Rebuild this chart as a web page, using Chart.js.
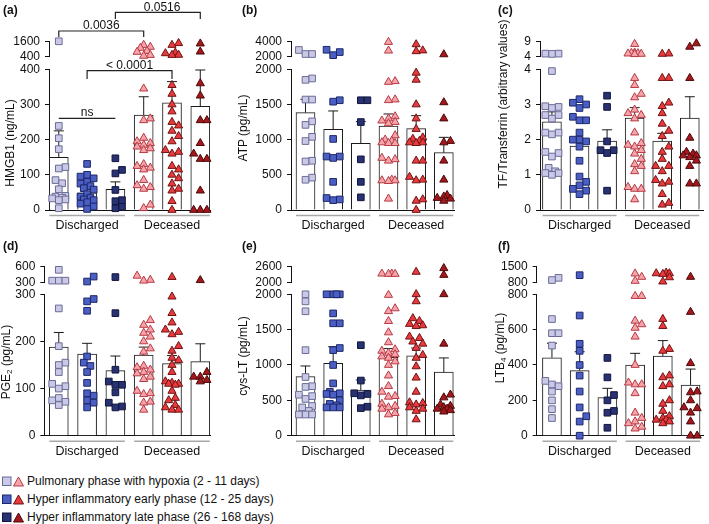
<!DOCTYPE html>
<html>
<head>
<meta charset="utf-8">
<script src="https://cdn.jsdelivr.net/npm/chart.js@4.4.1/dist/chart.umd.min.js"></script>
<style>
  body { margin: 0; width: 709px; height: 524px; position: relative; background: #fff; overflow: hidden;
         font-family: "Liberation Sans", Arial, sans-serif; color: #111; }
  canvas { position: absolute; }
  .lbl { position: absolute; font-weight: bold; font-size: 12px; line-height: 14px; }
  .ytitle { position: absolute; font-size: 12px; line-height: 14px; white-space: nowrap;
            transform: translate(-50%, -50%) rotate(-90deg); }
  .ytitle sub { font-size: 8px; vertical-align: -2px; }
  .legend { position: absolute; left: 1px; top: 472px; font-size: 12px; }
  .legend div { height: 18px; display: flex; align-items: center; }
  .legend svg { flex: none; }
</style>
</head>
<body>

<div class="lbl" style="left:3px;top:3px">(a)</div>
<div class="lbl" style="left:242px;top:3px">(b)</div>
<div class="lbl" style="left:498px;top:3px">(c)</div>
<div class="lbl" style="left:3px;top:239px">(d)</div>
<div class="lbl" style="left:242px;top:239px">(e)</div>
<div class="lbl" style="left:498px;top:239px">(f)</div>

<div class="ytitle" style="left:10px;top:143px">HMGB1 (ng/mL)</div>
<div class="ytitle" style="left:243px;top:128px">ATP (pg/mL)</div>
<div class="ytitle" style="left:503px;top:104px">TF/Transferrin (arbitrary values)</div>
<div class="ytitle" style="left:8px;top:362px">PGE<sub>2</sub> (pg/mL)</div>
<div class="ytitle" style="left:243px;top:356px">cys-LT (pg/mL)</div>
<div class="ytitle" style="left:502px;top:348px">LTB<sub>4</sub> (pg/mL)</div>

<div class="legend" id="legend"></div>

<script>
// Categories
const groupLabels = ['Discharged', 'Deceased'];
const phaseLabels = [
  'Pulmonary phase with hypoxia (2 - 11 days)',
  'Hyper inflammatory early phase (12 - 25 days)',
  'Hyper inflammatory late phase (26 - 168 days)'
];

// (a) HMGB1
const hmgb1Points = [
  [1600, 239, 204, 173, 122, 118, 85, 76, 59, 40, 38, 35, 33, 30, 28, 5],
  [131, 100, 95, 90, 80, 75, 68, 62, 58, 45, 38, 35, 30, 28, 22, 18, 10, 3],
  [147, 114, 104, 57, 28, 25, 9, 5],
  [1310, 1160, 1080, 840, 770, 530, 460, 345, 260, 255, 205, 195, 190, 185, 180, 175, 170, 130, 125, 120, 115, 85, 70, 65, 60, 15, 5],
  [1450, 1310, 720, 660, 540, 530, 355, 330, 300, 280, 250, 240, 225, 210, 195, 170, 165, 160, 125, 115, 100, 90, 75, 60, 55, 25, 0],
  [1420, 790, 360, 325, 255, 255, 190, 160, 145, 145, 55, 0, 0, 0]
];
const hmgb1Mean = [150, 49, 59, 270, 305, 295];
const hmgb1Sem = [75, 10, 21, 52, 60, 103];
const hmgb1Ticks = [0, 100, 200, 300, 400];
const hmgb1Upper = [400, 1600];

// (b) ATP
const atpPoints = [
  [2870, 2350, 2350, 1870, 1850, 1570, 1570, 1260, 1210, 1040, 980, 700, 690, 460, 430],
  [2900, 2600, 2200, 1560, 1540, 1010, 760, 760, 740, 400, 170, 150, 140],
  [1560, 1560, 1250, 720, 400, 180],
  [3900, 2780, 1830, 1820, 1570, 1560, 1330, 1300, 1270, 1250, 1230, 1060, 1000, 980, 960, 950, 950, 740, 720, 700, 430, 420, 420, 410, 160],
  [3600, 2800, 2700, 1950, 1850, 1500, 1300, 1150, 1030, 1010, 980, 960, 960, 950, 700, 700, 470, 430, 420, 150, 130, 0],
  [2300, 1530, 1300, 980, 960, 700, 430, 210, 190, 170, 160, 130]
];
const atpMean = [1384, 1147, 948, 1194, 1156, 815];
const atpSem = [189, 261, 308, 171, 185, 218];
const atpTicks = [0, 500, 1000, 1500, 2000];
const atpUpper = [2000, 4000];

// (c) TF/Transferrin
const tfPoints = [
  [5.0, 4.9, 5.0, 3.95, 2.95, 2.93, 2.9, 2.7, 2.7, 2.6, 2.2, 2.2, 2.15, 1.65, 1.62, 1.52, 1.2, 1.1, 1.05, 1.05, 1.0],
  [3.15, 3.05, 3.0, 2.9, 2.65, 2.55, 2.55, 2.2, 2.0, 2.0, 1.95, 1.8, 1.4, 0.95, 0.8, 0.7, 0.6, 0.55, 0.45],
  [3.25, 2.93, 1.95, 1.7, 1.7, 1.62, 0.55],
  [8.1, 5.3, 5.2, 5.1, 5.0, 4.9, 4.8, 3.75, 3.55, 3.3, 3.2, 2.85, 2.75, 2.7, 2.6, 2.2, 1.9, 1.85, 1.8, 1.7, 1.6, 1.45, 1.3, 1.25, 1.1, 0.65, 0.6, 0.6, 0.3],
  [5.0, 4.9, 3.75, 3.75, 3.05, 2.95, 2.75, 2.45, 2.25, 2.1, 1.8, 1.65, 1.45, 1.25, 1.25, 1.1, 0.85, 0.8, 0.75, 0.45, 0.2, 0.15],
  [8.3, 7.2, 3.75, 2.05, 1.65, 1.6, 1.55, 1.55, 1.5, 1.4, 1.25, 0.75, 0.75]
];
const tfMean = [2.51, 1.82, 1.96, 2.61, 1.96, 2.61];
const tfSem = [0.28, 0.2, 0.32, 0.3, 0.22, 0.61];
const tfTicks = [0, 1, 2, 3, 4];
const tfUpper = [4, 9];

// (d) PGE2
const pgePoints = [
  [540, 332, 332, 332, 270, 190, 155, 150, 135, 110, 105, 100, 80, 75, 72, 65],
  [410, 315, 290, 285, 265, 168, 155, 148, 135, 112, 90, 85, 75, 70, 60],
  [400, 260, 140, 115, 108, 108, 92, 70, 62, 60],
  [425, 345, 330, 245, 235, 225, 218, 210, 200, 185, 178, 148, 145, 140, 135, 132, 125, 120, 95, 90, 88, 72, 70, 55],
  [400, 295, 260, 240, 225, 220, 215, 190, 180, 165, 160, 150, 135, 115, 112, 110, 110, 108, 95, 80, 75, 65, 60, 55, 55],
  [340, 135, 125, 125, 118, 115]
];
const pgeMean = [188, 173, 138, 171, 153, 157];
const pgeSem = [31, 23, 31, 17, 17, 38];
const pgeTicks = [0, 100, 200, 300];
const pgeUpper = [300, 600];

// (e) cys-LT
const cysPoints = [
  [2000, 1900, 1760, 1210, 830, 700, 690, 580, 560, 520, 420, 400, 350, 300, 300, 300],
  [2000, 2000, 2000, 2000, 1730, 1590, 1590, 1240, 1210, 1000, 740, 620, 600, 590, 580, 500, 450, 430, 400, 400, 400],
  [1280, 780, 600, 590, 570, 410, 390],
  [2330, 2330, 2320, 2320, 1990, 1800, 1760, 1620, 1460, 1320, 1220, 1200, 1170, 1150, 1120, 1100, 1050, 1000, 850, 700, 620, 560, 550, 450, 420, 400, 380, 320, 300],
  [2400, 2000, 1900, 1660, 1620, 1580, 1560, 1550, 1400, 1380, 1330, 1300, 1240, 1140, 1100, 980, 820, 620, 470, 460, 440, 400, 380, 350, 230],
  [2540, 2280, 2000, 1300, 580, 540, 440, 420, 400, 380, 380, 360, 340]
];
const cysMean = [835, 1024, 646, 1110, 1130, 900];
const cysSem = [151, 235, 142, 122, 110, 200];
const cysTicks = [0, 500, 1000, 1500, 2000];
const cysUpper = [2000, 2600];

// (f) LTB4
const ltbPoints = [
  [1000, 900, 660, 580, 580, 510, 310, 290, 280, 250, 200, 150, 100],
  [1120, 680, 520, 480, 400, 340, 250, 160, 110, 80, 0],
  [440, 330, 230, 200, 140, 130, 45],
  [1190, 1040, 860, 790, 790, 650, 630, 610, 560, 400, 300, 290, 290, 240, 130, 100, 80, 70, 50, 40],
  [1230, 1200, 1200, 1170, 1020, 830, 660, 620, 490, 480, 340, 330, 290, 280, 200, 180, 140, 110, 100, 90, 90, 80, 70],
  [1040, 700, 410, 250, 245, 200, 160, 155, 130, 80, 0, 0]
];
const ltbMean = [441, 368, 215, 400, 451, 287];
const ltbSem = [82, 107, 53, 66, 87, 90];
const ltbTicks = [0, 200, 400, 600, 800];
const ltbUpper = [800, 1500];

const FONT = '"Liberation Sans", Arial, sans-serif';
Chart.defaults.font.family = FONT;
Chart.defaults.font.size = 12;
Chart.defaults.color = '#111';

const squareColors = [['#c9c9e7', '#6b6b96'], ['#4b5ec3', '#1d2868'], ['#283172', '#11163c']];
const triColors = [['#f6a4a9', '#b63a44'], ['#e8393d', '#6e1313'], ['#a4171c', '#4b0909']];

// legend
const legend = document.getElementById('legend');
phaseLabels.forEach((t, i) => {
  const row = document.createElement('div');
  row.innerHTML = '<svg width="26" height="11">' +
    '<rect x="1.5" y="1" width="8.5" height="8.5" fill="' + squareColors[i][0] + '" stroke="' + squareColors[i][1] + '" stroke-width="1"/>' +
    '<polygon points="12.5,10 22.5,10 17.5,1" fill="' + triColors[i][0] + '" stroke="' + triColors[i][1] + '" stroke-width="1"/>' +
    '</svg><span>' + t + '</span>';
  legend.appendChild(row);
});

// error bars (mean + SEM, upward only)
const errorBars = {
  id: 'errorBars',
  afterDatasetDraw(chart, args) {
    if (args.index !== 0) return;
    const ds = chart.data.datasets[0];
    const ys = chart.scales.y, xs = chart.scales.x, ctx = chart.ctx;
    ctx.save();
    ctx.strokeStyle = '#1a1a1a';
    ctx.lineWidth = 1;
    ds.data.forEach((d, i) => {
      const x = xs.getPixelForValue(d.x);
      const y0 = ys.getPixelForValue(d.y), y1 = ys.getPixelForValue(d.y + ds.sem[i]);
      ctx.beginPath();
      ctx.moveTo(x, y0); ctx.lineTo(x, y1);
      ctx.moveTo(x - 5, y1); ctx.lineTo(x + 5, y1);
      ctx.stroke();
    });
    ctx.restore();
  }
};

// grey group underlines
const groupLines = {
  id: 'groupLines',
  afterDraw(chart) {
    const xs = chart.scales.x, ctx = chart.ctx, y = chart.chartArea.bottom + 5.5;
    ctx.save();
    ctx.strokeStyle = '#a8a8a8';
    ctx.lineWidth = 1.5;
    [[1, 3], [4, 6]].forEach(([a, b]) => {
      ctx.beginPath();
      ctx.moveTo(xs.getPixelForValue(a) - 9.5, y);
      ctx.lineTo(xs.getPixelForValue(b) + 9.5, y);
      ctx.stroke();
    });
    ctx.restore();
  }
};

// significance brackets
const brackets = {
  id: 'brackets',
  afterDraw(chart, args, opts) {
    const items = opts.items || [];
    const xs = chart.scales.x, ctx = chart.ctx;
    ctx.save();
    ctx.strokeStyle = '#222';
    ctx.lineWidth = 1.2;
    ctx.fillStyle = '#111';
    ctx.font = '12px ' + FONT;
    ctx.textAlign = 'center';
    items.forEach(b => {
      const x1 = xs.getPixelForValue(b.from), x2 = xs.getPixelForValue(b.to);
      ctx.beginPath();
      ctx.moveTo(x1, b.y + b.drop);
      ctx.lineTo(x1, b.y);
      ctx.lineTo(x2, b.y);
      ctx.lineTo(x2, b.y + b.drop);
      ctx.stroke();
      const tx = b.textX !== undefined ? b.textX : (b.from + b.to) / 2;
      ctx.fillText(b.text, xs.getPixelForValue(tx), b.textY);
    });
    ctx.restore();
  }
};

// spread points sideways so they do not sit on top of each other
function swarm(ys, d = 6.6, step = 3.3, lim = 8.5) {
  const order = ys.map((_, i) => i).sort((a, b) => ys[b] - ys[a]);
  const off = new Array(ys.length).fill(0);
  const placed = [];
  const cands = [0];
  for (let k = step; k <= lim + 0.01; k += step) cands.push(k, -k);
  order.forEach(i => {
    let best = 0, bestD = -1;
    for (const c of cands) {
      let m = Infinity;
      for (const p of placed) m = Math.min(m, Math.hypot(c - p[0], ys[i] - p[1]));
      if (m >= d) { best = c; break; }
      if (m > bestD) { bestD = m; best = c; }
    }
    off[i] = best;
    placed.push([best, ys[i]]);
  });
  return off;
}

const rows = [
  { top: 0, h: 240, areaTop: 41.3, areaBottom: 210, weights: [15.4, 12.6, 140.7] },
  { top: 240, h: 226, areaTop: 266.7, areaBottom: 435.7, weights: [15.6, 12, 141.4] }
];
const cols = [{ left: 0, w: 230 }, { left: 230, w: 230 }, { left: 460, w: 249 }];

function buildPanel(p) {
  const row = rows[p.row], col = cols[p.col];
  const cv = document.createElement('canvas');
  cv.width = col.w; cv.height = row.h;
  cv.style.left = col.left + 'px'; cv.style.top = row.top + 'px';
  document.body.insertBefore(cv, document.body.firstChild);

  const yW = p.axisX - col.left;
  const fixW = s => { s.width = yW; };
  const brk = p.ticks[p.ticks.length - 1];

  const datasets = [{
    type: 'bar', data: p.mean.map((m, i) => ({ x: i + 1, y: m })), sem: p.sem,
    backgroundColor: '#fff', borderColor: '#1a1a1a', borderWidth: 1, barThickness: 19,
    yAxisID: 'y', order: 3
  }];
  p.points.forEach((vals, g) => {
    const [fill, stroke] = g < 3 ? squareColors[g] : triColors[g - 3];
    const style = g < 3 ? 'rect' : 'triangle';
    [[vals.filter(v => v <= brk), 'y'], [vals.filter(v => v > brk), 'y2']].forEach(([arr, axis]) => {
      if (!arr.length) return;
      datasets.push({
        type: 'scatter', grp: g, data: arr.map(v => ({ x: g + 1, y: v })), yAxisID: axis,
        pointStyle: style, pointRadius: 4.7, backgroundColor: fill, borderColor: stroke,
        borderWidth: 1, clip: false, order: 1
      });
    });
  });

  const tickOpts = { color: '#111', font: { size: 12 }, padding: 5, autoSkip: false, callback: v => String(v) };
  const gridOpts = { drawOnChartArea: false, tickLength: 4, color: '#111', lineWidth: 1 };

  const chart = new Chart(cv, {
    data: { datasets },
    plugins: [errorBars, groupLines, brackets],
    options: {
      responsive: false, animation: false, devicePixelRatio: 1, events: [],
      layout: { padding: {
        left: 0, top: row.areaTop - row.top,
        right: col.left + col.w - p.axisEnd,
        bottom: row.h - 30 - (row.areaBottom - row.top)
      } },
      plugins: { legend: { display: false }, tooltip: { enabled: false }, brackets: { items: p.brackets || [] } },
      scales: {
        x: {
          type: 'linear', position: 'bottom', min: p.xMin, max: p.xMax, offset: false,
          afterFit: s => { s.height = 30; },
          afterBuildTicks: s => { s.ticks = [{ value: 2 }, { value: 5 }]; },
          grid: { display: false, drawTicks: false, offset: false },
          border: { color: '#111', width: 1 },
          ticks: { color: '#111', font: { size: 12.5 }, padding: 8, maxRotation: 0, autoSkip: false,
                   callback: v => v === 2 ? groupLabels[0] : groupLabels[1] }
        },
        y: {
          type: 'linear', position: 'left', stack: 'ax', stackWeight: row.weights[2],
          min: p.ticks[0], max: brk, afterFit: fixW,
          afterBuildTicks: s => { s.ticks = p.ticks.map(v => ({ value: v })); },
          ticks: tickOpts, grid: gridOpts, border: { color: '#111', width: 1 }
        },
        yg: {
          type: 'linear', position: 'left', stack: 'ax', stackWeight: row.weights[1],
          afterFit: fixW, ticks: { display: false }, grid: { display: false }, border: { display: false }
        },
        y2: {
          type: 'linear', position: 'left', stack: 'ax', stackWeight: row.weights[0],
          min: p.upper[0], max: p.upper[1], afterFit: fixW,
          afterBuildTicks: s => { s.ticks = p.upper.map(v => ({ value: v })); },
          ticks: tickOpts, grid: gridOpts, border: { color: '#111', width: 1 }
        }
      }
    }
  });

  const xs = chart.scales.x;
  const sp = xs.getPixelForValue(2) - xs.getPixelForValue(1);
  for (let g = 0; g < 6; g++) {
    const items = [];
    chart.data.datasets.forEach(ds => {
      if (ds.grp !== g) return;
      ds.data.forEach(pt => items.push({ pt, py: chart.scales[ds.yAxisID].getPixelForValue(pt.y) }));
    });
    const offs = swarm(items.map(it => it.py));
    items.forEach((it, i) => { it.pt.x = g + 1 + offs[i] / sp; });
  }
  chart.update('none');
}

buildPanel({ row: 0, col: 0, axisX: 49, axisEnd: 210, xMin: 0.654, xMax: 6.343,
  points: hmgb1Points, mean: hmgb1Mean, sem: hmgb1Sem, ticks: hmgb1Ticks, upper: hmgb1Upper,
  brackets: [
    { from: 3, to: 6, y: 12.3, drop: 6.7, text: '0.0516', textX: 4.65, textY: 10.5 },
    { from: 1, to: 4, y: 31, drop: 6, text: '0.0036', textY: 29 },
    { from: 2, to: 5, y: 70.7, drop: 8.3, text: '< 0.0001', textY: 68.5 },
    { from: 1, to: 3, y: 118.3, drop: 0, text: 'ns', textX: 2, textY: 116 }
  ] });
buildPanel({ row: 0, col: 1, axisX: 291, axisEnd: 457.7, xMin: 0.476, xMax: 6.379,
  points: atpPoints, mean: atpMean, sem: atpSem, ticks: atpTicks, upper: atpUpper });
buildPanel({ row: 0, col: 2, axisX: 540, axisEnd: 706.7, xMin: 0.567, xMax: 6.49,
  points: tfPoints, mean: tfMean, sem: tfSem, ticks: tfTicks, upper: tfUpper });
buildPanel({ row: 1, col: 0, axisX: 44.3, axisEnd: 210, xMin: 0.488, xMax: 6.343,
  points: pgePoints, mean: pgeMean, sem: pgeSem, ticks: pgeTicks, upper: pgeUpper });
buildPanel({ row: 1, col: 1, axisX: 291, axisEnd: 457, xMin: 0.476, xMax: 6.379,
  points: cysPoints, mean: cysMean, sem: cysSem, ticks: cysTicks, upper: cysUpper });
buildPanel({ row: 1, col: 2, axisX: 536.7, axisEnd: 706, xMin: 0.45, xMax: 6.46,
  points: ltbPoints, mean: ltbMean, sem: ltbSem, ticks: ltbTicks, upper: ltbUpper });
</script>
</body>
</html>
